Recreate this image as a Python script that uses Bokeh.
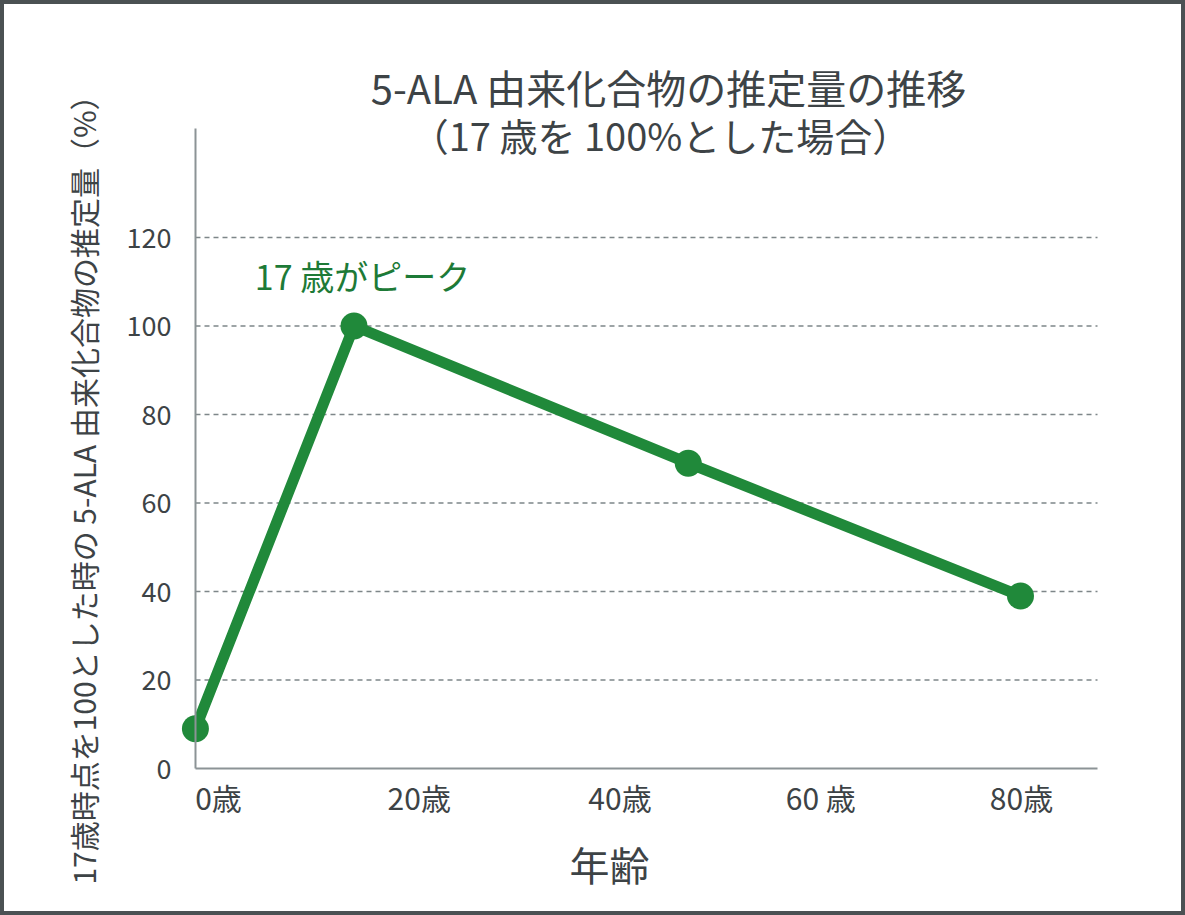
import math
from bokeh.plotting import figure
from bokeh.models import Label, Range1d, FixedTicker
from bokeh.embed import file_html
from bokeh.resources import INLINE

# ---- data ----
age_pos = [-2.3, 13.5, 46.8, 79.9]      # x position of each point on the age axis
amount = [9, 100, 69, 39]               # estimated amount, % of age 17
x_ticks = [0, 20, 40, 60, 80]
x_tick_labels = ["0歳", "20歳", "40歳", "60 歳", "80歳"]
y_ticks = [0, 20, 40, 60, 80, 100, 120]
grid_levels = [20, 40, 60, 80, 100, 120]

title1 = "5-ALA 由来化合物の推定量の推移"
title2 = "（17 歳を 100%とした場合）"
peak_text = "17 歳がピーク"
x_title = "年齢"
y_title = "17歳時点を100とした時の 5-ALA 由来化合物の推定量（%）"

FONT = "Noto Sans CJK JP"
TXT = "#3d4346"
GREEN = "#20893a"
GREEN_TXT = "#1d7a37"
AXIS = "#8c9396"
GRID = "#7e8689"

# ---- layout helpers (reference pixel -> data) ----
PXX = (1021 - 218) / 80.0
PXY = (768 - 237) / 120.0
def xd(X):
    return (X - 218) / PXX
def yd(Y):
    return (768 - Y) / PXY

OFF = 4   # css border width; canvas starts inside it
W, H = 1185, 915
ax_left, ax_right, ax_top, ax_bottom = 195, 1097, 128, 768

p = figure(width=W, height=H, output_backend="svg", toolbar_location=None,
           x_range=Range1d(xd(OFF), xd(OFF + W)),
           y_range=Range1d(yd(OFF + H), yd(OFF)),
           min_border=0,
           styles={"border": "4px solid #4b5153"})
p.outline_line_color = None
p.background_fill_color = "white"
p.border_fill_color = "white"
p.xgrid.visible = False
p.ygrid.visible = False

# axes (placed inside the frame at the reference positions)
xa = p.xaxis[0]
xa.ticker = FixedTicker(ticks=x_ticks)
xa.major_label_overrides = {t: l for t, l in zip(x_ticks, x_tick_labels)}
xa.fixed_location = 0
xa.bounds = (xd(ax_left), xd(ax_right))
ya = p.yaxis[0]
ya.ticker = FixedTicker(ticks=y_ticks)
ya.fixed_location = xd(ax_left)
ya.bounds = (0, yd(ax_top))
for ax in (xa, ya):
    ax.axis_line_color = AXIS
    ax.axis_line_width = 2
    ax.major_tick_line_color = None
    ax.minor_tick_line_color = None
    ax.major_label_text_font = FONT
    ax.major_label_text_color = TXT
xa.major_label_text_font_size = "30px"
ya.major_label_text_font_size = "27px"
xa.major_label_standoff = 0
ya.major_label_standoff = 18

# dashed grid lines starting at the y axis
p.segment(x0=[xd(ax_left)] * len(grid_levels), x1=[xd(ax_right)] * len(grid_levels),
          y0=grid_levels, y1=grid_levels, line_color=GRID, line_width=1.5,
          line_dash="5 4")

# series
p.line(age_pos, amount, line_color=GREEN, line_width=11, line_join="round")
p.scatter(age_pos, amount, size=27, fill_color=GREEN, line_color=None)

def lab(text, X, Y, size, color=TXT, angle=0.0):
    p.add_layout(Label(x=xd(X), y=yd(Y), text=text, text_align="center",
                       text_baseline="middle", text_font=FONT,
                       text_font_size=size, text_color=color, angle=angle))

lab(title1, 668, 86, "40px")
lab(title2, 660, 134, "38px")
lab(peak_text, 362, 275, "34px", GREEN_TXT)
lab(x_title, 609, 863, "40px")
lab(y_title, 82, 482, "30px", angle=math.pi / 2)

open("out.html", "w").write(file_html(p, INLINE))
